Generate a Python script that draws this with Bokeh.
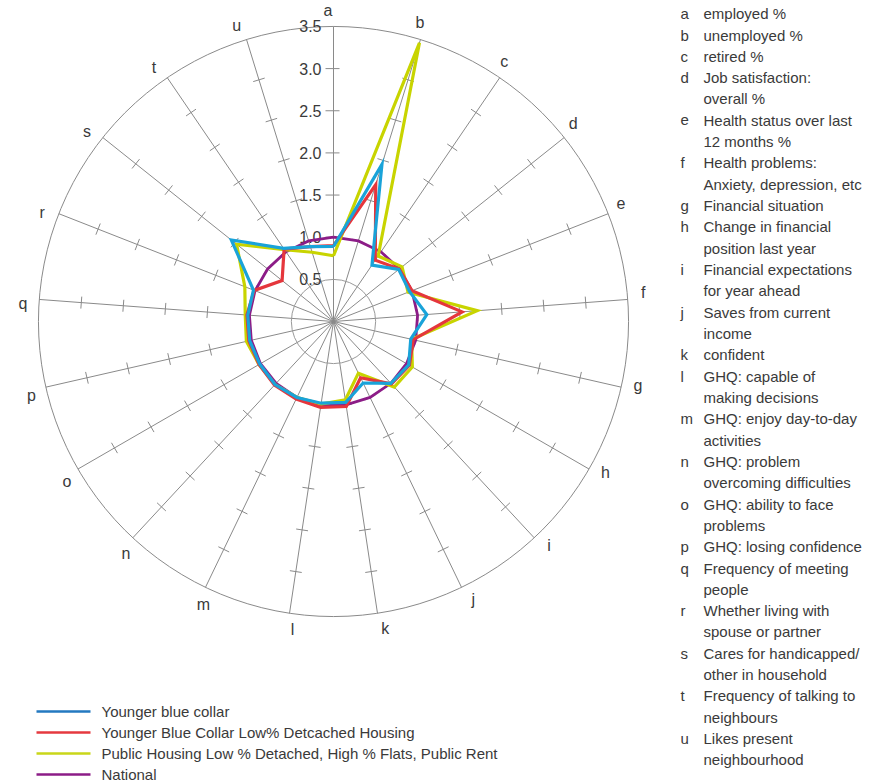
import numpy as np
from bokeh.plotting import figure
from bokeh.models import Range1d
from bokeh.core.properties import value
from bokeh.embed import file_html
from bokeh.resources import INLINE

# ---------------- data ----------------
axis_letters = ["a", "b", "c", "d", "e", "f", "g", "h", "i", "j", "k",
                "l", "m", "n", "o", "p", "q", "r", "s", "t", "u"]
axis_desc = [
    ["employed %"],
    ["unemployed %"],
    ["retired %"],
    ["Job satisfaction:", "overall %"],
    ["Health status over last", "12 months %"],
    ["Health problems:", "Anxiety, depression, etc"],
    ["Financial situation"],
    ["Change in financial", "position last year"],
    ["Financial expectations", "for year ahead"],
    ["Saves from current", "income"],
    ["confident"],
    ["GHQ: capable of", "making decisions"],
    ["GHQ: enjoy day-to-day", "activities"],
    ["GHQ: problem", "overcoming difficulties"],
    ["GHQ: ability to face", "problems"],
    ["GHQ: losing confidence"],
    ["Frequency of meeting", "people"],
    ["Whether living with", "spouse or partner"],
    ["Cares for handicapped/", "other in household"],
    ["Frequency of talking to", "neighbours"],
    ["Likes present", "neighbourhood"],
]

series_names = [
    "Younger blue collar",
    "Younger Blue Collar Low% Detcached Housing",
    "Public Housing Low % Detached, High % Flats, Public Rent",
    "National",
]
#                 a     b     c     d     e     f     g     h     i     j     k     l     m     n     o     p     q     r     s     t     u
younger_blue = [0.89, 1.95, 0.81, 0.99, 0.97, 1.11, 0.94, 1.03, 1.00, 0.81, 0.97, 0.98, 1.00, 1.02, 1.01, 1.02, 1.02, 1.02, 1.55, 1.05, 0.93]
younger_red  = [0.90, 1.70, 0.88, 1.00, 1.00, 1.53, 0.97, 1.04, 1.01, 0.74, 1.02, 1.03, 1.02, 1.03, 1.02, 1.03, 1.03, 1.01, 0.78, 1.04, 0.93]
public_hous  = [0.78, 3.46, 0.94, 1.04, 0.95, 1.71, 0.95, 1.08, 1.06, 0.68, 0.94, 0.99, 1.00, 1.02, 1.02, 1.06, 1.05, 1.13, 1.47, 1.03, 0.86]
national     = [1.00, 1.00, 1.00, 1.00, 1.00, 1.00, 1.00, 1.00, 1.00, 1.00, 1.00, 1.00, 1.00, 1.00, 1.00, 1.00, 1.00, 1.00, 1.00, 1.00, 1.00]

radial_ticks = [0.5, 1.0, 1.5, 2.0, 2.5, 3.0, 3.5]
radial_tick_labels = ["0.5", "1.0", "1.5", "2.0", "2.5", "3.0", "3.5"]
r_max = 3.5

line_colors = ["#19a3d9", "#e5363c", "#c8d400", "#8c1c87"]
legend_colors = ["#2379c0", "#e5393f", "#c9d619", "#8c1c87"]
series_values = [younger_blue, younger_red, public_hous, national]

# ---------------- geometry ----------------
W, H = 887, 783
S = 84.3               # pixels per index unit
CX, CY = 333.0, 321.0  # centre in picture pixels
TXT = "#3a3a3a"
FONT = value("Liberation Sans")


def pt(ix, iy):
    return (ix - CX) / S, (CY - iy) / S


p = figure(width=W, height=H, output_backend="svg", toolbar_location=None,
           x_range=Range1d((0 - CX) / S, (W - CX) / S),
           y_range=Range1d((CY - H) / S, (CY - 0) / S),
           x_axis_type=None, y_axis_type=None, min_border=0,
           outline_line_color=None, background_fill_color="white")
p.grid.visible = False

n = len(axis_letters)
theta = np.arange(n) * 2 * np.pi / n
sx, sy = np.sin(theta), np.cos(theta)

# spokes
p.segment(x0=np.zeros(n), y0=np.zeros(n), x1=r_max * sx, y1=r_max * sy,
          line_color="#8a8a8a", line_width=1)
# outer circle and inner circle
p.circle(x=[0, 0], y=[0, 0], radius=[r_max, radial_ticks[0]],
         fill_color=None, line_color=["#8a8a8a", "#9a9a9a"], line_width=1)

# tick marks along spokes
hl = 6 / S
x0s, y0s, x1s, y1s = [], [], [], []
for i in range(n):
    for t in radial_ticks[1:-1]:
        cx, cy = t * sx[i], t * sy[i]
        px, py = np.cos(theta[i]), -np.sin(theta[i])
        if i == 0:
            x0s.append(cx - 8 / S); x1s.append(cx + hl)
            y0s.append(cy); y1s.append(cy)
        else:
            x0s.append(cx - hl * px); x1s.append(cx + hl * px)
            y0s.append(cy - hl * py); y1s.append(cy + hl * py)
p.segment(x0=x0s, y0=y0s, x1=x1s, y1=y1s, line_color="#8a8a8a", line_width=1)

# radial tick labels
p.text(x=[-12 / S] * len(radial_ticks), y=radial_ticks, text=radial_tick_labels,
       text_align="right", text_baseline="middle", text_font=FONT,
       text_font_size="16px", text_color=TXT)

# axis letters (ring slightly rotated like the original artwork)
rl = 311 / S
lab_theta = theta - np.deg2rad(1.0)
p.text(x=rl * np.sin(lab_theta), y=rl * np.cos(lab_theta), text=axis_letters,
       text_align="center", text_baseline="middle", text_font=FONT,
       text_font_size="16px", text_color=TXT)

# series polygons (drawn bottom to top)
for idx in [3, 2, 1, 0]:
    v = np.array(series_values[idx])
    xs = np.append(v * sx, v[0] * sx[0])
    ys = np.append(v * sy, v[0] * sy[0])
    p.line(xs, ys, line_color=line_colors[idx],
           line_width=2.8 if idx == 3 else 3.2, line_join="miter")

# key list at right
kx_l, ky_l, kt_l = [], [], []
tx_l, ty_l, tt_l = [], [], []
row = 0
for letter, lines in zip(axis_letters, axis_desc):
    for j, ln in enumerate(lines):
        yc = 13.2 + 21.32 * row
        if j == 0:
            x, y = pt(680, yc)
            kx_l.append(x); ky_l.append(y); kt_l.append(letter)
        x, y = pt(703, yc)
        tx_l.append(x); ty_l.append(y); tt_l.append(ln)
        row += 1
p.text(x=kx_l, y=ky_l, text=kt_l, text_align="left", text_baseline="middle",
       text_font=FONT, text_font_size="15px", text_color=TXT)
p.text(x=tx_l, y=ty_l, text=tt_l, text_align="left", text_baseline="middle",
       text_font=FONT, text_font_size="15px", text_color=TXT)

# legend at bottom left
for k, name in enumerate(series_names):
    ly = 711 + 21 * k
    x0, y0 = pt(36, ly)
    x1, _ = pt(90, ly)
    p.segment(x0=[x0], y0=[y0], x1=[x1], y1=[y0], line_color=legend_colors[k],
              line_width=2.6)
    tx, ty = pt(101, ly)
    p.text(x=[tx], y=[ty], text=[name], text_align="left",
           text_baseline="middle", text_font=FONT, text_font_size="15px",
           text_color=TXT)

open("out.html", "w").write(file_html(p, INLINE))
